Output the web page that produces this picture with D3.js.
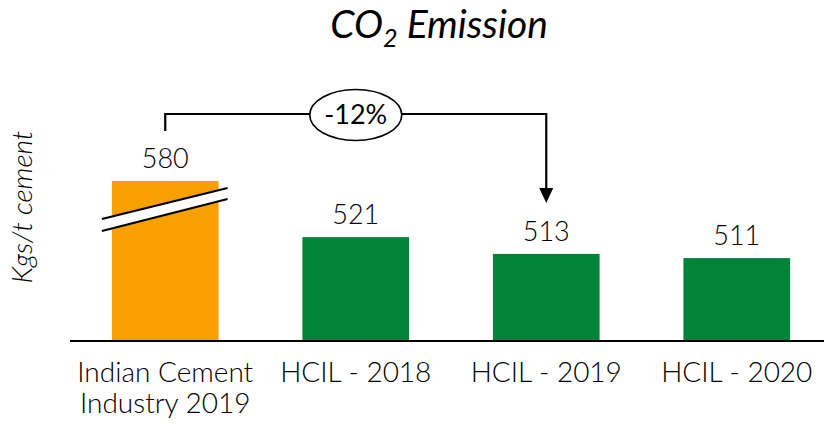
<!DOCTYPE html>
<html><head><meta charset="utf-8">
<script src="https://cdn.jsdelivr.net/npm/d3@7"></script>
<style>
html,body{margin:0;padding:0;background:#fff;}
svg{display:block;font-family:Lato,"Open Sans",sans-serif;}
</style></head>
<body>
<svg id="chart" width="824" height="423"></svg>
<script>
const categories = [["Indian Cement", "Industry 2019"], ["HCIL - 2018"], ["HCIL - 2019"], ["HCIL - 2020"]];
const values = [580, 521, 513, 511];
const colors = ["#F7A000", "#02833A", "#02833A", "#02833A"];
const changeLabel = "-12%";
const yLabel = "Kgs/t cement";

const W = 824, H = 423;
const svg = d3.select("#chart");
const baseY = 340;

const x = d3.scaleBand().domain(d3.range(values.length)).range([70, 832]).paddingInner(0.44).paddingOuter(0.22);
// broken axis: piecewise linear scale
const y = d3.scaleLinear().domain([472, 525, 580]).range([baseY, 228.7, 181]);

// title
const title = svg.append("text").attr("x", 439).attr("y", 38).attr("text-anchor", "middle")
  .attr("font-style", "italic").attr("font-size", 39).attr("fill", "#000");
title.append("tspan").text("CO");
title.append("tspan").text("2").attr("font-size", 25).attr("dy", 9);
title.append("tspan").text(" Emission").attr("dy", -9);

// y label
svg.append("text").attr("transform", "translate(32,207) rotate(-90)").attr("text-anchor", "middle")
  .attr("font-style", "italic").attr("font-size", 28).attr("font-weight", 300).attr("fill", "#000").text(yLabel);

// bars
svg.selectAll("rect.bar").data(values).join("rect").attr("class", "bar")
  .attr("x", (d, i) => x(i)).attr("width", x.bandwidth())
  .attr("y", d => y(d)).attr("height", d => baseY - y(d))
  .attr("fill", (d, i) => colors[i]);

// value labels
svg.selectAll("text.val").data(values).join("text").attr("class", "val")
  .attr("x", (d, i) => x(i) + x.bandwidth() / 2).attr("y", d => y(d) - 13)
  .attr("text-anchor", "middle").attr("font-size", 27).attr("font-weight", 300).attr("fill", "#000").text(d => d);

// axis line
svg.append("line").attr("x1", 70).attr("x2", W).attr("y1", baseY + 1).attr("y2", baseY + 1)
  .attr("stroke", "#000").attr("stroke-width", 2.2);

// category labels
categories.forEach((lines, i) => {
  const t = svg.append("text").attr("x", x(i) + x.bandwidth() / 2).attr("y", 382)
    .attr("text-anchor", "middle").attr("font-size", 28).attr("font-weight", 300).attr("fill", "#000");
  lines.forEach((l, j) => t.append("tspan").attr("x", x(i) + x.bandwidth() / 2).attr("dy", j ? 31 : 0).text(l));
});

// break marks on first bar
const bx0 = x(0) - 10, bx1 = x(0) + x.bandwidth() + 9;
const brk = [[bx0, 219, bx1, 188], [bx0, 231, bx1, 199]];
svg.append("path").attr("d", `M${bx0},219 L${bx1},188 L${bx1},199 L${bx0},231 Z`).attr("fill", "#fff");
svg.selectAll("line.brk").data(brk).join("line").attr("class", "brk")
  .attr("x1", d => d[0]).attr("y1", d => d[1]).attr("x2", d => d[2]).attr("y2", d => d[3])
  .attr("stroke", "#000").attr("stroke-width", 2.2);

// bracket
const cx0 = x(0) + x.bandwidth() / 2, cx2 = x(2) + x.bandwidth() / 2;
const topY = 114;
svg.append("path").attr("d", `M${cx0},131 L${cx0},${topY} L${cx2},${topY} L${cx2},189`)
  .attr("fill", "none").attr("stroke", "#000").attr("stroke-width", 2.2);
svg.append("path").attr("d", `M${cx2 - 7},188 L${cx2 + 7},188 L${cx2},203 Z`).attr("fill", "#000");
const ex = x(1) + x.bandwidth() / 2;
svg.append("ellipse").attr("cx", ex).attr("cy", 115).attr("rx", 46).attr("ry", 25.5)
  .attr("fill", "#fff").attr("stroke", "#000").attr("stroke-width", 1.6);
svg.append("text").attr("x", ex).attr("y", 124).attr("text-anchor", "middle")
  .attr("font-size", 27).attr("fill", "#000").text(changeLabel);
</script>
</body></html>
